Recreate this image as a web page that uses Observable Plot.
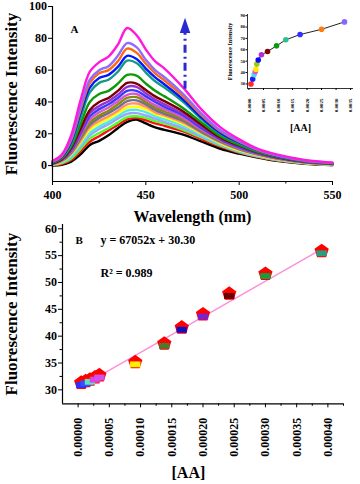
<!DOCTYPE html>
<html><head><meta charset="utf-8">
<script src="https://cdn.jsdelivr.net/npm/d3@7"></script>
<script src="https://cdn.jsdelivr.net/npm/@observablehq/plot@0.6"></script>
<style>
body{margin:0;background:#fff;}
#wrap{position:relative;width:360px;height:484px;overflow:hidden;background:#fff;}
#wrap svg{position:absolute;}
</style></head><body><div id="wrap"></div>
<script>
// ---------- Panel A: emission spectra ----------
const wavelengths = [400,405,410,415,420,425,430,435,440,445,450,455,460,470,480,490,500,510,520,535,550];
const specMagenta = [3,7,19,41,59,65,68.5,76,86.5,82,73,65.5,61,49,35,24,16.5,10.5,7,3.5,1.8];
const specPurple  = [2.6,6.5,17,37,54,60,62.5,69,77,74.5,66.5,60,55.5,45,32.5,22,15.5,10,6.5,3.2,1.7];
const specOrange  = [2.4,6,16,35,52,58,60,65.5,73.5,71,64,58,53.5,43.5,31.5,21.5,15,9.8,6.4,3.1,1.6];
const specBlue    = [2.2,5.5,15,33,49,55,57,62,69,67,61,55.5,51,41.5,30,20.5,14.5,9.5,6.2,3,1.5];
const specTeal    = [2,5,13.5,30,46,52,54,59,66,64.5,58.5,53,49,40,29,20,14,9.2,6,2.9,1.4];
const specGreen   = [1.7,4.5,12,26,40,45,47,51.5,57,56.5,51.5,47,43.5,36,27,18.5,13,8.7,5.7,2.7,1.3];
const specMaroon  = [1.5,4,11,23,35,40,42.5,47,52,51.5,47.5,43.5,40.5,34,25.5,17.5,12.5,8.3,5.4,2.5,1.2];
const specViolet  = [1.4,3.8,10,21,33,37.5,40.5,44.5,49.5,49.5,45.5,41.5,38.5,32.5,24.5,17,12,8,5.2,2.4,1.1];
const specBlue2   = [1.3,3.6,9.5,20,31,35.5,38.5,42.5,47,47,43.5,40,37,31.5,23.5,16.5,11.5,7.7,5,2.3,1];
const specPink    = [1.2,3.4,9,19,29,33.5,36.5,40.5,44.5,45,41.5,38,35.5,30,22.5,16,11,7.4,4.8,2.2,1];
const specOlive   = [1.1,3.2,8.5,18,27,31.5,34.5,38.5,42.5,43,40,36.5,34,29,22,15.5,10.7,7.2,4.6,2.1,0.9];
const specGray    = [1,3,8,17,25.5,30,33,36.5,40.5,41,38.5,35,32.5,28,21,15,10.3,7,4.5,2,0.9];
const specSalmon  = [0.9,2.7,7.5,15.5,24,28,31,34.5,38.5,39,37,33.5,31.5,27,20.5,14.5,10,6.7,4.3,1.9,0.8];
const specYellow  = [0.8,2.5,7,14.5,22.5,26.5,29.5,33,36.5,37,35.5,32.5,30.5,26,20,14,9.6,6.5,4.1,1.8,0.7];
const specCyan    = [0.7,2.2,6,13,20.5,24.5,27.5,31,34.5,35,33.5,31,29,25,19,13.5,9.2,6.2,3.9,1.7,0.6];
const specLavender= [0.6,2,5.5,12,19,23,26,29.5,32.5,33,31.5,29.5,27.5,23.5,18,13,8.8,5.9,3.7,1.6,0.5];
const specLime    = [0.5,1.5,4.5,10.5,17,20.5,23.5,27,30.5,31,30,28,26.5,22.5,17.5,12.5,8.5,5.6,3.5,1.5,0.5];
const specRed     = [0.3,1,3.5,9,15,18.5,22,25.5,29,30,28.5,26.5,25,21.5,16.5,12,8.2,5.4,3.3,1.4,0.4];
const specBlack   = [0,0.5,2.5,7,13,15.5,19,23.5,27.5,29,26.5,24,22.5,19.5,15,10.5,7.5,5,3,1.2,0.3];
const spectra = [specMagenta,specPurple,specOrange,specBlue,specTeal,specGreen,specMaroon,specViolet,specBlue2,
  specPink,specOlive,specGray,specSalmon,specYellow,specCyan,specLavender,specLime,specRed,specBlack];
const spectraColors = ["#ff1adb","#8f6bff","#ff6a10","#0018ff","#139a86","#0a9a0a","#7a0000","#9b30d0","#3a3aff",
  "#d858c8","#8a8a10","#6f6f8f","#ff8f70","#ffff00","#50e8e8","#a0a0ff","#50ff30","#ff1010","#000000"];
const xTicksA = [400,450,500,550];
const xMinorA = [425,475,525];
const yTicksA = [0,20,40,60,80,100];
// arrow annotation (data units)
const arrowX = 471, arrowFrom = 48, arrowTo = 84, arrowTip = 86.9;

// ---------- Inset ----------
const insetConc = [0.00007,0.00013,0.00018,0.00022,0.00024,0.00027,0.00032,0.00043,0.00064,0.00095,0.00127,0.00176,0.0025,0.00329];
const insetInt  = [30,34.4,38.2,41,43,47.5,51,55.6,58.5,63.5,68.8,73.4,78,84.5];
const insetColors = ["#ff2a2a","#1a1aff","#40e0e0","#ff40d0","#ffee00","#99cc10","#0a0aff","#b030d0","#800000","#0a9a0a","#30c090","#3030ff","#ff7a10","#8866ff"];
const insetXTicks = [0,0.0005,0.001,0.0015,0.002,0.0025,0.003,0.0035];
const insetYTicks = [30,40,50,60,70,80,90];

// ---------- Panel B: calibration ----------
const bConc = [0.000005,0.000012,0.000019,0.000027,0.000034,0.0000915,0.000138,0.000166,0.0002,0.000242,0.0003,0.00039];
const bInt  = [31.3,31.6,31.9,32.3,32.7,35.15,38.6,41.6,44.05,47.9,51.6,55.84];
const bColors = ["#2f2fff","#3050ff","#5fe0c0","#e040e0","#d050e8","#ffee00","#4d7a2a","#1010c0","#7b22d0","#6b0000","#1a9a3a","#2e9b7e"];
const fitConc = [0.000004,0.00039];
const fitInt  = [30.6,56.2];
const xTicksB = [0,0.00005,0.0001,0.00015,0.0002,0.00025,0.0003,0.00035,0.0004];
const xMinorB = [0.000025,0.000075,0.000125,0.000175,0.000225,0.000275,0.000325,0.000375,0.000425];
const yTicksB = [30,35,40,45,50,55,60];
const yMinorB = [32.5,37.5,42.5,47.5,52.5,57.5];

const serif = '"Liberation Serif","Times New Roman",serif';
const baseStyle = {fontFamily: serif, fontWeight: "bold", background: "transparent", overflow: "visible", color: "#000"};

const pentagon = {draw(ctx, size) {
  const R = Math.sqrt(size / Math.PI);
  for (let k = 0; k < 5; k++) {
    const a = -Math.PI / 2 + k * 2 * Math.PI / 5;
    const px = R * Math.cos(a), py = R * Math.sin(a);
    if (k) ctx.lineTo(px, py); else ctx.moveTo(px, py);
  }
  ctx.closePath();
}};
const innerSquare = {draw(ctx, size) {
  const r = Math.sqrt(size / Math.PI);
  ctx.rect(-r, -0.15 * r, 2 * r, 1.13 * r);
}};
const arrowHead = {draw(ctx, size) {
  const r = Math.sqrt(size / Math.PI);
  ctx.moveTo(0, -r); ctx.lineTo(r * 0.55, r * 0.6); ctx.lineTo(-r * 0.55, r * 0.6); ctx.closePath();
}};

const wrap = document.getElementById("wrap");

// Panel A
const lineMarks = spectra.map((s, i) => Plot.line(wavelengths, {
  x: d => d, y: (d, j) => s[j], stroke: spectraColors[i], strokeWidth: 2.4, curve: "catmull-rom"
})).reverse();
const arrowColor = "#2a2ad0";
const plotA = Plot.plot({
  width: 360, height: 230,
  marginLeft: 52, marginRight: 28, marginTop: 6, marginBottom: 49,
  style: baseStyle,
  x: {domain: [400, 550]},
  y: {domain: [-10, 100]},
  marks: [
    ...lineMarks,
    Plot.ruleX([arrowX], {y1: arrowFrom, y2: arrowTo, stroke: arrowColor, strokeWidth: 3, strokeDasharray: "8,4,2,4"}),
    Plot.dot([arrowX], {x: d => d, y: arrowTip, symbol: arrowHead, r: 9.5, fill: arrowColor, stroke: "none"}),
    Plot.ruleX([400], {stroke: "#000", strokeWidth: 1.2}),
    Plot.ruleY([-10], {stroke: "#000", strokeWidth: 1.2}),
    Plot.axisX({ticks: xTicksA, tickSize: 4, fontSize: 12, label: null}),
    Plot.axisX({ticks: xMinorA, tickSize: 2.5, tickFormat: () => "", label: null}),
    Plot.axisY({ticks: yTicksA, tickSize: 4, tickPadding: 1.5, fontSize: 12, label: null}),
    Plot.text(["Fluorescence Intensity"], {frameAnchor: "left", textAnchor: "middle", rotate: -90, dx: -40.5, fontSize: 17}),
    Plot.text(["Wavelength (nm)"], {frameAnchor: "bottom", textAnchor: "middle", dy: 40, lineAnchor: "bottom", fontSize: 16}),
    Plot.text(["A"], {frameAnchor: "top-left", dx: 18, dy: 26, textAnchor: "start", lineAnchor: "bottom", fontSize: 11})
  ]
});
plotA.style.left = "0px"; plotA.style.top = "0px";

// Panel B
const plotB = Plot.plot({
  width: 360, height: 262,
  marginLeft: 62, marginRight: 17, marginTop: 2, marginBottom: 80.7,
  style: baseStyle,
  color: {type: "identity"},
  x: {domain: [-0.000025, 0.000425]},
  y: {domain: [27.4, 60.8]},
  marks: [
    Plot.line(fitConc, {x: d => d, y: (d, i) => fitInt[i], stroke: "#ff8ed8", strokeWidth: 1.4}),
    Plot.dot(bConc, {x: d => d, y: (d, i) => bInt[i], symbol: pentagon, r: 7.5, fill: "#ff0000", stroke: "none"}),
    Plot.dot(bConc, {x: d => d, y: (d, i) => bInt[i], symbol: innerSquare, r: 5.2, fill: (d, i) => bColors[i], stroke: "none"}),
    Plot.ruleX([-0.000025], {stroke: "#000", strokeWidth: 1.2}),
    Plot.ruleY([27.4], {stroke: "#000", strokeWidth: 1.2}),
    Plot.axisX({ticks: xTicksB, tickSize: 4, tickRotate: -90, tickPadding: 10, fontSize: 12, tickFormat: d => d.toFixed(5), label: null}),
    Plot.axisX({ticks: xMinorB, tickSize: 2.5, tickFormat: () => "", label: null}),
    Plot.axisY({ticks: yTicksB, tickSize: 4, tickPadding: 1.5, fontSize: 12, label: null}),
    Plot.axisY({ticks: yMinorB, tickSize: 2.5, tickFormat: () => "", label: null}),
    Plot.text(["Fluorescence Intensity"], {frameAnchor: "left", textAnchor: "middle", rotate: -90, dx: -50.5, fontSize: 17}),
    Plot.text(["[AA]"], {frameAnchor: "bottom", textAnchor: "middle", dx: -14.6, dy: 73.7, lineAnchor: "bottom", fontSize: 16}),
    Plot.text(["B"], {frameAnchor: "top-left", dx: 13, dy: 19, textAnchor: "start", lineAnchor: "bottom", fontSize: 11}),
    Plot.text(["y = 67052x + 30.30"], {frameAnchor: "top-left", dx: 38, dy: 19, textAnchor: "start", lineAnchor: "bottom", fontSize: 12}),
    Plot.text(["R² = 0.989"], {frameAnchor: "top-left", dx: 38, dy: 52, textAnchor: "start", lineAnchor: "bottom", fontSize: 12})
  ]
});
plotB.style.left = "0px"; plotB.style.top = "222px";

// Inset
const plotI = Plot.plot({
  width: 134, height: 135,
  marginLeft: 24, marginRight: 4, marginTop: 14, marginBottom: 47,
  style: baseStyle,
  color: {type: "identity"},
  x: {domain: [-0.00005, 0.0036]},
  y: {domain: [26, 91]},
  marks: [
    Plot.line(insetConc, {x: d => d, y: (d, i) => insetInt[i], stroke: "#222", strokeWidth: 1}),
    Plot.dot(insetConc, {x: d => d, y: (d, i) => insetInt[i], r: 2.8, fill: (d, i) => insetColors[i], stroke: "none"}),
    Plot.ruleX([-0.00005], {stroke: "#000", strokeWidth: 0.8}),
    Plot.ruleY([26], {stroke: "#000", strokeWidth: 0.8}),
    Plot.axisX({ticks: insetXTicks, tickSize: 2, tickRotate: -90, tickPadding: 8, fontSize: 5, tickFormat: d => d.toFixed(4), label: null}),
    Plot.axisY({ticks: insetYTicks, tickSize: 1.5, tickPadding: 1, fontSize: 4.5, label: null}),
    Plot.text(["Fluorescence Intensity"], {frameAnchor: "left", textAnchor: "middle", rotate: -90, dx: -17, fontSize: 6}),
    Plot.text(["[AA]"], {frameAnchor: "bottom", textAnchor: "middle", dy: 42, lineAnchor: "bottom", fontSize: 10})
  ]
});
plotI.style.left = "223px"; plotI.style.top = "0px";

wrap.appendChild(plotA);
wrap.appendChild(plotB);
wrap.appendChild(plotI);
</script></body></html>
